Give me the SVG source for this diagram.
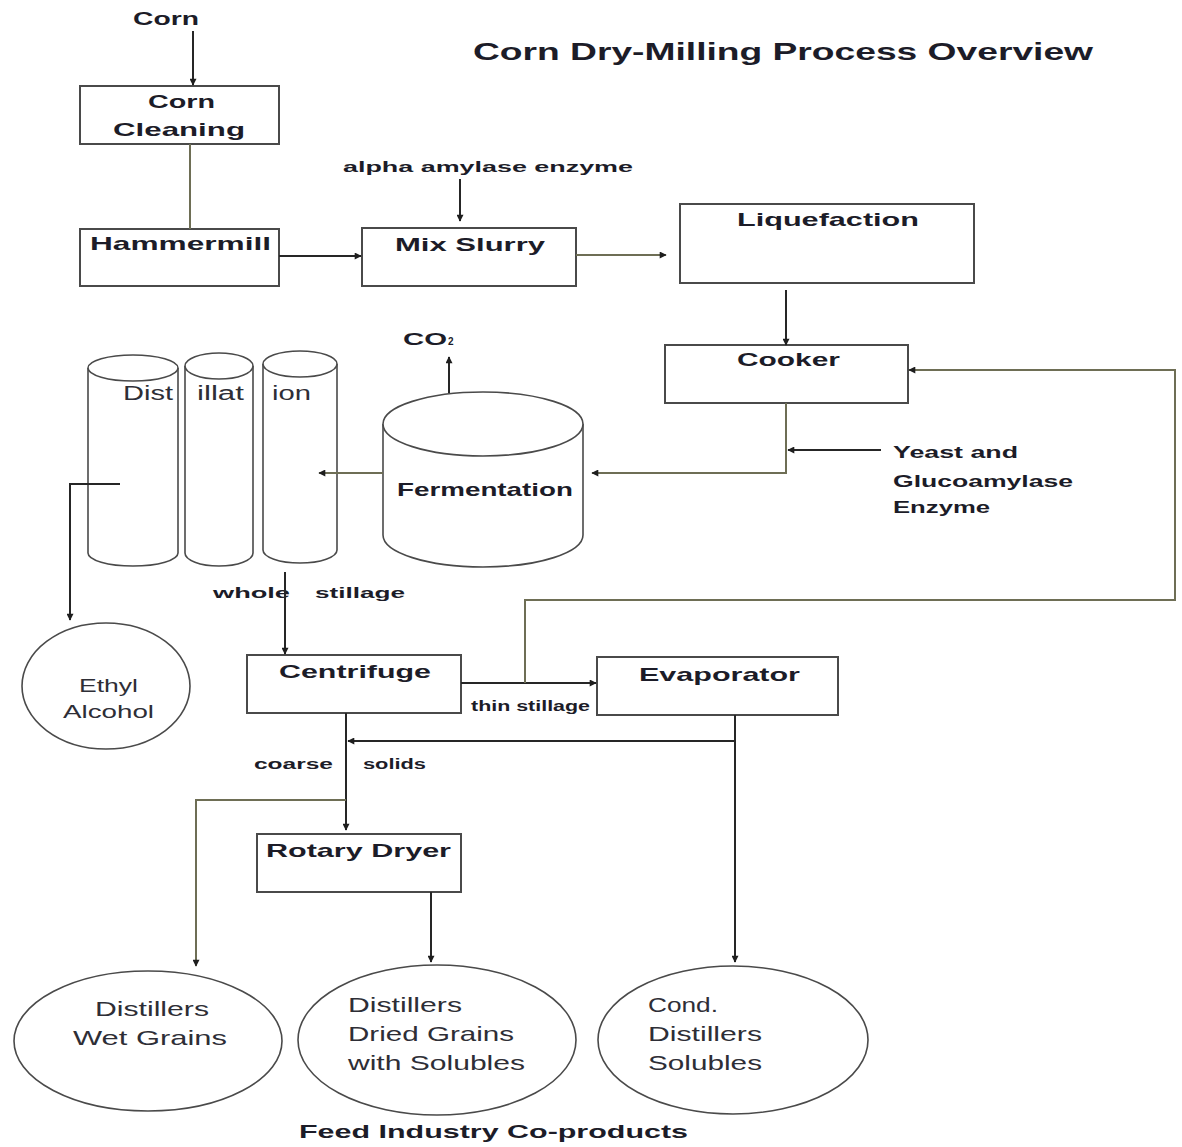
<svg xmlns="http://www.w3.org/2000/svg" width="1182" height="1147" viewBox="0 0 1182 1147">
  <style>
    .box { fill: #ffffff; stroke: #4a4a4a; stroke-width: 2; }
    .shape { fill: #ffffff; stroke: #4a4a4a; stroke-width: 1.6; }
    .lbl { font-family: "Liberation Sans", Arial, sans-serif; font-weight: bold; fill: #1c1c28; }
    .soft { font-family: "Liberation Sans", Arial, sans-serif; fill: #2e2e36; }
    .dk { fill: none; stroke: #262626; stroke-width: 2; }
    .ol { fill: none; stroke: #6e6e55; stroke-width: 2; }
  </style>
  <defs>
    <marker id="arr" viewBox="0 0 10 10" refX="9" refY="5" markerWidth="8" markerHeight="7" markerUnits="userSpaceOnUse" orient="auto">
      <path d="M0,0 L10,5 L0,10 z" fill="#1e1e1e"/>
    </marker>
  </defs>

  <rect width="1182" height="1147" fill="#ffffff"/>

  <!-- title -->
  <text class="lbl" x="473" y="60" font-size="24" textLength="620" lengthAdjust="spacingAndGlyphs">Corn Dry-Milling Process Overview</text>

  <!-- free labels -->
  <text class="lbl" x="133" y="25" font-size="19" textLength="66" lengthAdjust="spacingAndGlyphs">Corn</text>
  <text class="lbl" x="343" y="172" font-size="15" textLength="290" lengthAdjust="spacingAndGlyphs">alpha amylase enzyme</text>
  <text class="lbl" x="403" y="345" font-size="17" fill="#3a3a10" textLength="44" lengthAdjust="spacingAndGlyphs">CO</text>
  <text class="lbl" x="448" y="345" font-size="10" fill="#3a3a10">2</text>
  <text class="lbl" x="893" y="458" font-size="16" textLength="125" lengthAdjust="spacingAndGlyphs">Yeast and</text>
  <text class="lbl" x="893" y="487" font-size="16" textLength="180" lengthAdjust="spacingAndGlyphs">Glucoamylase</text>
  <text class="lbl" x="893" y="513" font-size="16" textLength="97" lengthAdjust="spacingAndGlyphs">Enzyme</text>
  <text class="lbl" x="213" y="598" font-size="15" textLength="77" lengthAdjust="spacingAndGlyphs">whole</text>
  <text class="lbl" x="315" y="598" font-size="15" textLength="90" lengthAdjust="spacingAndGlyphs">stillage</text>
  <text class="lbl" x="471" y="711" font-size="14" textLength="119" lengthAdjust="spacingAndGlyphs">thin stillage</text>
  <text class="lbl" x="254" y="769" font-size="14" textLength="79" lengthAdjust="spacingAndGlyphs">coarse</text>
  <text class="lbl" x="363" y="769" font-size="14" textLength="63" lengthAdjust="spacingAndGlyphs">solids</text>
  <text class="lbl" x="299" y="1138" font-size="19" textLength="389" lengthAdjust="spacingAndGlyphs">Feed Industry Co-products</text>

  <!-- process boxes -->
  <g id="corn-cleaning">
    <rect class="box" x="80" y="86" width="199" height="58"/>
    <text class="lbl" x="148" y="108" font-size="19" textLength="67" lengthAdjust="spacingAndGlyphs">Corn</text>
    <text class="lbl" x="113" y="136" font-size="19" textLength="132" lengthAdjust="spacingAndGlyphs">Cleaning</text>
  </g>
  <g id="hammermill">
    <rect class="box" x="80" y="229" width="199" height="57"/>
    <text class="lbl" x="90" y="250" font-size="19" textLength="181" lengthAdjust="spacingAndGlyphs">Hammermill</text>
  </g>
  <g id="mix-slurry">
    <rect class="box" x="362" y="228" width="214" height="58"/>
    <text class="lbl" x="395" y="251" font-size="19" textLength="150" lengthAdjust="spacingAndGlyphs">Mix Slurry</text>
  </g>
  <g id="liquefaction">
    <rect class="box" x="680" y="204" width="294" height="79"/>
    <text class="lbl" x="737" y="226" font-size="19" textLength="182" lengthAdjust="spacingAndGlyphs">Liquefaction</text>
  </g>
  <g id="cooker">
    <rect class="box" x="665" y="345" width="243" height="58"/>
    <text class="lbl" x="737" y="366" font-size="19" textLength="103" lengthAdjust="spacingAndGlyphs">Cooker</text>
  </g>
  <g id="fermentation">
    <path class="shape" d="M383,424 L383,535 A100,32 0 0 0 583,535 L583,424"/>
    <ellipse class="shape" cx="483" cy="424" rx="100" ry="32"/>
    <text class="lbl" x="397" y="496" font-size="19" textLength="176" lengthAdjust="spacingAndGlyphs">Fermentation</text>
  </g>
  <g id="distillation">
    <path class="shape" d="M88,368 L88,553 A45,13 0 0 0 178,553 L178,368"/>
    <ellipse class="shape" cx="133" cy="368" rx="45" ry="13"/>
    <path class="shape" d="M185,366 L185,553 A34,13 0 0 0 253,553 L253,366"/>
    <ellipse class="shape" cx="219" cy="366" rx="34" ry="13"/>
    <path class="shape" d="M263,364 L263,550 A37,13 0 0 0 337,550 L337,364"/>
    <ellipse class="shape" cx="300" cy="364" rx="37" ry="13"/>
    <text class="soft" x="123" y="400" font-size="20" textLength="50" lengthAdjust="spacingAndGlyphs">Dist</text>
    <text class="soft" x="197" y="400" font-size="20" textLength="47" lengthAdjust="spacingAndGlyphs">illat</text>
    <text class="soft" x="272" y="400" font-size="20" textLength="39" lengthAdjust="spacingAndGlyphs">ion</text>
  </g>
  <g id="centrifuge">
    <rect class="box" x="247" y="655" width="214" height="58"/>
    <text class="lbl" x="279" y="678" font-size="19" textLength="152" lengthAdjust="spacingAndGlyphs">Centrifuge</text>
  </g>
  <g id="evaporator">
    <rect class="box" x="597" y="657" width="241" height="58"/>
    <text class="lbl" x="639" y="681" font-size="19" textLength="161" lengthAdjust="spacingAndGlyphs">Evaporator</text>
  </g>
  <g id="rotary-dryer">
    <rect class="box" x="257" y="834" width="204" height="58"/>
    <text class="lbl" x="266" y="857" font-size="19" textLength="185" lengthAdjust="spacingAndGlyphs">Rotary Dryer</text>
  </g>

  <!-- products -->
  <g id="ethyl-alcohol">
    <ellipse class="shape" cx="106" cy="686" rx="84" ry="63"/>
    <text class="soft" x="79" y="692" font-size="19" textLength="59" lengthAdjust="spacingAndGlyphs">Ethyl</text>
    <text class="soft" x="63" y="718" font-size="19" textLength="91" lengthAdjust="spacingAndGlyphs">Alcohol</text>
  </g>
  <g id="wet-grains">
    <ellipse class="shape" cx="148" cy="1041" rx="134" ry="70"/>
    <text class="soft" x="95" y="1016" font-size="21" textLength="114" lengthAdjust="spacingAndGlyphs">Distillers</text>
    <text class="soft" x="73" y="1045" font-size="21" textLength="154" lengthAdjust="spacingAndGlyphs">Wet Grains</text>
  </g>
  <g id="dried-grains">
    <ellipse class="shape" cx="437" cy="1040" rx="139" ry="75"/>
    <text class="soft" x="348" y="1012" font-size="21" textLength="114" lengthAdjust="spacingAndGlyphs">Distillers</text>
    <text class="soft" x="348" y="1041" font-size="21" textLength="166" lengthAdjust="spacingAndGlyphs">Dried Grains</text>
    <text class="soft" x="348" y="1070" font-size="21" textLength="177" lengthAdjust="spacingAndGlyphs">with Solubles</text>
  </g>
  <g id="solubles">
    <ellipse class="shape" cx="733" cy="1040" rx="135" ry="74"/>
    <text class="soft" x="648" y="1012" font-size="21" textLength="70" lengthAdjust="spacingAndGlyphs">Cond.</text>
    <text class="soft" x="648" y="1041" font-size="21" textLength="114" lengthAdjust="spacingAndGlyphs">Distillers</text>
    <text class="soft" x="648" y="1070" font-size="21" textLength="114" lengthAdjust="spacingAndGlyphs">Solubles</text>
  </g>

  <!-- connectors (drawn last so lines running into the columns stay visible) -->
  <g id="connectors">
    <line class="dk" x1="193" y1="31" x2="193" y2="85" marker-end="url(#arr)"/>
    <line class="ol" x1="190" y1="144" x2="190" y2="229"/>
    <line class="dk" x1="279" y1="256" x2="361" y2="256" marker-end="url(#arr)"/>
    <line class="dk" x1="460" y1="179" x2="460" y2="221" marker-end="url(#arr)"/>
    <line class="ol" x1="576" y1="255" x2="666" y2="255" marker-end="url(#arr)"/>
    <line class="dk" x1="786" y1="290" x2="786" y2="345" marker-end="url(#arr)"/>
    <polyline class="ol" points="786,403 786,473 592,473" marker-end="url(#arr)"/>
    <line class="dk" x1="881" y1="450" x2="788" y2="450" marker-end="url(#arr)"/>
    <line class="dk" x1="449" y1="393" x2="449" y2="357" marker-end="url(#arr)"/>
    <line class="ol" x1="383" y1="473" x2="319" y2="473" marker-end="url(#arr)"/>
    <polyline class="dk" points="120,484 70,484 70,620" marker-end="url(#arr)"/>
    <line class="dk" x1="285" y1="572" x2="285" y2="654" marker-end="url(#arr)"/>
    <line class="dk" x1="461" y1="683" x2="596" y2="683" marker-end="url(#arr)"/>
    <polyline class="ol" points="525,683 525,600 1175,600 1175,370 909,370" marker-end="url(#arr)"/>
    <line class="dk" x1="735" y1="715" x2="735" y2="962" marker-end="url(#arr)"/>
    <line class="dk" x1="735" y1="741" x2="348" y2="741" marker-end="url(#arr)"/>
    <line class="dk" x1="346" y1="713" x2="346" y2="830" marker-end="url(#arr)"/>
    <polyline class="ol" points="346,800 196,800 196,966" marker-end="url(#arr)"/>
    <line class="dk" x1="431" y1="892" x2="431" y2="962" marker-end="url(#arr)"/>
  </g>
</svg>
